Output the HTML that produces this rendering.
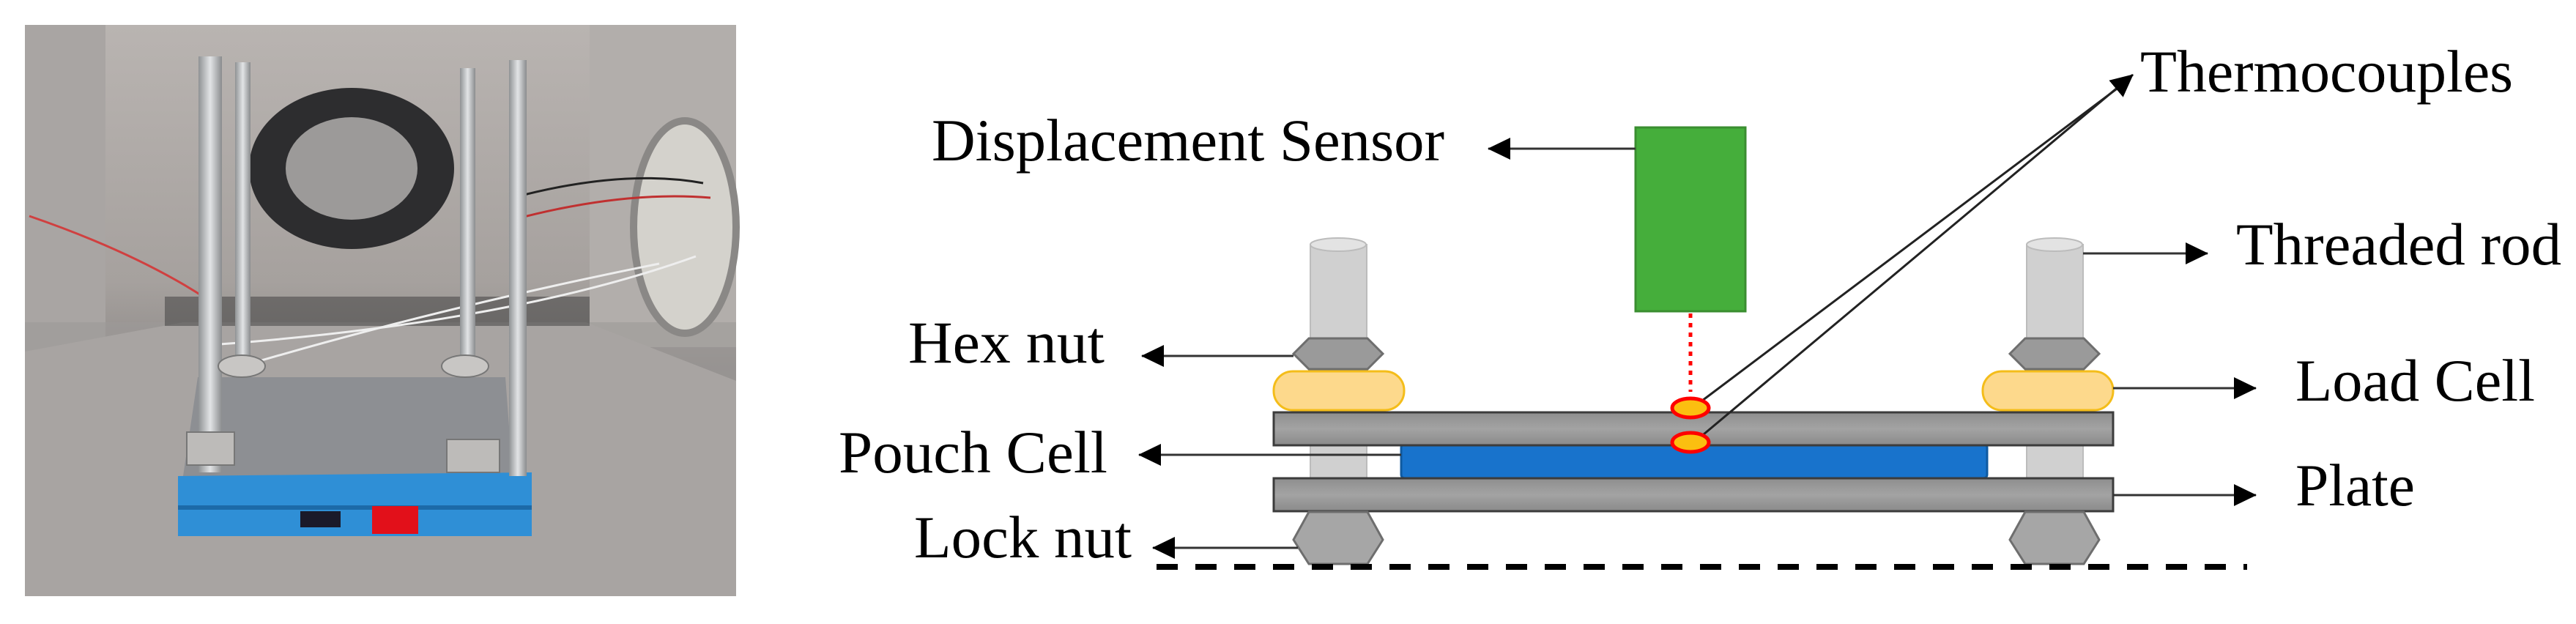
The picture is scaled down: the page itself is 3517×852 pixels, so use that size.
<!DOCTYPE html>
<html><head><meta charset="utf-8"><style>
html,body{margin:0;padding:0;background:#fff;}
svg{display:block;}
text{font-family:"Liberation Serif",serif;font-size:82px;fill:#000;}
</style></head><body>
<svg width="3517" height="852" viewBox="0 0 3517 852" xmlns="http://www.w3.org/2000/svg">
<defs>
<linearGradient id="wall" x1="0" y1="0" x2="0" y2="1">
<stop offset="0" stop-color="#b9b4b1"/><stop offset="0.45" stop-color="#a6a19e"/><stop offset="0.6" stop-color="#8f8b89"/><stop offset="1" stop-color="#aaa6a4"/>
</linearGradient>
<linearGradient id="plate" x1="0" y1="0" x2="0" y2="1">
<stop offset="0" stop-color="#8e8e8e"/><stop offset="0.5" stop-color="#a3a3a3"/><stop offset="1" stop-color="#8a8a8a"/>
</linearGradient>
<linearGradient id="rod" x1="0" y1="0" x2="1" y2="0">
<stop offset="0" stop-color="#8f9294"/><stop offset="0.5" stop-color="#e2e4e6"/><stop offset="1" stop-color="#8a8c8e"/>
</linearGradient>
<marker id="ah" markerWidth="32" markerHeight="32" refX="30" refY="15" orient="auto" markerUnits="userSpaceOnUse" viewBox="0 0 32 32">
<path d="M0,0 L31,15 L0,30 z" fill="#000"/></marker>
</defs>

<!-- Photo -->
<rect x="34" y="34" width="971" height="780" fill="url(#wall)"/>
<rect x="34" y="34" width="110" height="500" fill="#a9a5a3"/>
<rect x="805" y="34" width="200" height="440" fill="#b2aeab"/>
<rect x="34" y="440" width="971" height="374" fill="#9d9997" opacity="0.6"/>
<polygon points="34,480 250,440 800,440 1005,520 1005,814 34,814" fill="#a8a4a2"/>
<rect x="225" y="405" width="580" height="40" fill="#3a3a3a" opacity="0.5"/>
<ellipse cx="480" cy="230" rx="140" ry="110" fill="#2d2d2f"/>
<ellipse cx="480" cy="230" rx="90" ry="70" fill="#9c9a99"/>
<ellipse cx="935" cy="310" rx="70" ry="145" fill="#d4d2cc" stroke="#8a8886" stroke-width="10"/>
<path d="M40,295 Q200,350 300,420" stroke="#d04040" stroke-width="3" fill="none"/>
<path d="M700,300 Q850,260 970,270" stroke="#c03030" stroke-width="3" fill="none"/>
<path d="M700,270 Q850,230 960,250" stroke="#222" stroke-width="3" fill="none"/>
<path d="M330,500 Q600,420 900,360" stroke="#eee" stroke-width="3" fill="none"/>
<path d="M300,470 Q700,440 950,350" stroke="#eee" stroke-width="3" fill="none"/>
<polygon points="270,515 690,515 700,650 250,650" fill="#8d8f93"/>
<polygon points="243,650 726,645 726,732 243,732" fill="#2f8fd6"/>
<rect x="243" y="690" width="483" height="6" fill="#1c6aa8"/>
<rect x="508" y="691" width="63" height="38" fill="#e2101a"/>
<rect x="410" y="698" width="55" height="22" fill="#1a1a2a"/>
<rect x="271" y="77" width="32" height="568" fill="url(#rod)"/>
<rect x="321" y="85" width="21" height="423" fill="url(#rod)"/>
<rect x="628" y="93" width="21" height="415" fill="url(#rod)"/>
<rect x="695" y="82" width="24" height="568" fill="url(#rod)"/>
<ellipse cx="330" cy="500" rx="32" ry="15" fill="#c8c6c4" stroke="#777" stroke-width="2"/>
<ellipse cx="635" cy="500" rx="32" ry="15" fill="#c8c6c4" stroke="#777" stroke-width="2"/>
<rect x="255" y="590" width="65" height="45" fill="#bdbbb9" stroke="#777" stroke-width="2"/>
<rect x="610" y="600" width="72" height="45" fill="#bdbbb9" stroke="#777" stroke-width="2"/>

<!-- Diagram -->
<rect x="1789" y="334" width="77" height="322" fill="#d0d0d0" stroke="#bcbcbc" stroke-width="2"/>
<ellipse cx="1827" cy="334" rx="38" ry="9" fill="#e3e3e3" stroke="#bcbcbc" stroke-width="2"/>
<rect x="2767" y="334" width="77" height="322" fill="#d0d0d0" stroke="#bcbcbc" stroke-width="2"/>
<ellipse cx="2805" cy="334" rx="38" ry="9" fill="#e3e3e3" stroke="#bcbcbc" stroke-width="2"/>
<polygon points="1766,483 1787,462 1867,462 1888,483 1867,504 1787,504" fill="#9a9a9a" stroke="#6e6e6e" stroke-width="3"/>
<polygon points="2744,483 2765,462 2845,462 2866,483 2845,504 2765,504" fill="#9a9a9a" stroke="#6e6e6e" stroke-width="3"/>
<rect x="1739" y="507" width="178" height="53" rx="26" fill="#fdd98c" stroke="#f4bd1a" stroke-width="3"/>
<rect x="2707" y="507" width="178" height="53" rx="26" fill="#fdd98c" stroke="#f4bd1a" stroke-width="3"/>
<rect x="1913" y="606" width="800" height="47" rx="5" fill="#1873cc" stroke="#0f5aa0" stroke-width="3"/>
<rect x="1739" y="563" width="1146" height="45" fill="url(#plate)" stroke="#3c3c3c" stroke-width="3"/>
<rect x="1739" y="653" width="1146" height="45" fill="url(#plate)" stroke="#3c3c3c" stroke-width="3"/>
<polygon points="1787,699 1867,699 1888,737 1867,770 1787,770 1766,737" fill="#a6a6a6" stroke="#6e6e6e" stroke-width="3"/>
<polygon points="2765,699 2845,699 2866,737 2845,770 2765,770 2744,737" fill="#a6a6a6" stroke="#6e6e6e" stroke-width="3"/>
<line x1="1579" y1="774" x2="3068" y2="774" stroke="#000" stroke-width="8" stroke-dasharray="29,24"/>
<rect x="2233" y="174" width="150" height="251" fill="#45ae3b" stroke="#3a8e30" stroke-width="3"/>
<line x1="2308" y1="428" x2="2308" y2="535" stroke="#f00" stroke-width="5" stroke-dasharray="6,7"/>
<line x1="2320" y1="550" x2="2905" y2="110" stroke="#222" stroke-width="3"/>
<line x1="2320" y1="598" x2="2912" y2="102" stroke="#222" stroke-width="3" marker-end="url(#ah)"/>
<ellipse cx="2308" cy="557" rx="25" ry="13" fill="#fbbf10" stroke="#f00" stroke-width="5"/>
<ellipse cx="2308" cy="604" rx="25" ry="13" fill="#fbbf10" stroke="#f00" stroke-width="5"/>

<g stroke="#333" stroke-width="3" marker-end="url(#ah)">
<line x1="2233" y1="203" x2="2032" y2="203"/>
<line x1="1766" y1="486" x2="1559" y2="486"/>
<line x1="1913" y1="621" x2="1555" y2="621"/>
<line x1="1772" y1="748" x2="1574" y2="748"/>
<line x1="2844" y1="346" x2="3014" y2="346"/>
<line x1="2885" y1="530" x2="3080" y2="530"/>
<line x1="2885" y1="676" x2="3080" y2="676"/>
</g>

<text x="1272" y="219" textLength="700" lengthAdjust="spacingAndGlyphs">Displacement Sensor</text>
<text x="2922" y="125" textLength="509" lengthAdjust="spacingAndGlyphs">Thermocouples</text>
<text x="3053" y="361" textLength="444" lengthAdjust="spacingAndGlyphs">Threaded rod</text>
<text x="1240" y="495" textLength="268" lengthAdjust="spacingAndGlyphs">Hex nut</text>
<text x="3134" y="547" textLength="327" lengthAdjust="spacingAndGlyphs">Load Cell</text>
<text x="1145" y="645" textLength="367" lengthAdjust="spacingAndGlyphs">Pouch Cell</text>
<text x="3134" y="690" textLength="163" lengthAdjust="spacingAndGlyphs">Plate</text>
<text x="1248" y="761" textLength="297" lengthAdjust="spacingAndGlyphs">Lock nut</text>
</svg>
</body></html>
